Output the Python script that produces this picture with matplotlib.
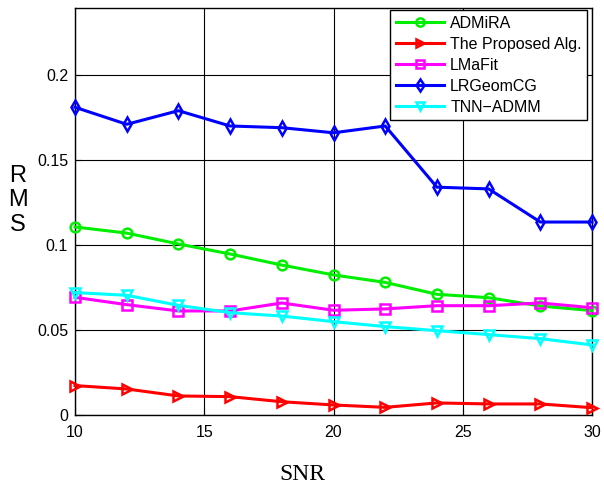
import matplotlib
matplotlib.use("Agg")
import matplotlib.pyplot as plt

snr = [10, 12, 14, 16, 18, 20, 22, 24, 26, 28, 30]
admira = [0.1106, 0.1070, 0.1006, 0.0947, 0.0882, 0.0824, 0.0780, 0.0710, 0.0690, 0.0641, 0.0614]
proposed = [0.0173, 0.0153, 0.0112, 0.0108, 0.0078, 0.0059, 0.0045, 0.0071, 0.0065, 0.0065, 0.0043]
lmafit = [0.0692, 0.0649, 0.0612, 0.0612, 0.0659, 0.0616, 0.0624, 0.0643, 0.0643, 0.0659, 0.0631]
lrgeomcg = [0.181, 0.171, 0.179, 0.170, 0.169, 0.166, 0.170, 0.134, 0.133, 0.1135, 0.1135]
tnn_admm = [0.0720, 0.0704, 0.0645, 0.0602, 0.0582, 0.0549, 0.0520, 0.0496, 0.0473, 0.0449, 0.0412]

labels = ["ADMiRA", "The Proposed Alg.", "LMaFit", "LRGeomCG", "TNN\u2212ADMM"]
xticks = [10, 15, 20, 25, 30]
yticks = [0, 0.05, 0.1, 0.15, 0.2]
yticklabels = ["0", "0.05", "0.1", "0.15", "0.2"]

plt.rcParams['font.family'] = ['Liberation Sans', 'DejaVu Sans']

fig = plt.figure(figsize=(6.04, 4.88), dpi=100)
ax = fig.add_axes([0.1242, 0.1496, 0.8560, 0.8340])

series = [
    (admira, '#00ee00', 'o'),
    (proposed, '#ff0000', '>'),
    (lmafit, '#ff00ff', 's'),
    (lrgeomcg, '#0000ff', 'd'),
    (tnn_admm, '#00ffff', 'v'),
]
for (vals, col, mk), lab in zip(series, labels):
    ax.plot(snr, vals, color=col, marker=mk, lw=2.2, markersize=7,
            markerfacecolor='none', markeredgecolor=col, markeredgewidth=1.8,
            label=lab, clip_on=False, zorder=3)

ax.set_xlim(10, 30)
ax.set_ylim(0, 0.2394)
ax.set_xticks(xticks)
ax.set_xticklabels([str(t) for t in xticks], fontsize=11.5)
ax.set_yticks(yticks)
ax.set_yticklabels(yticklabels, fontsize=11.5)
ax.grid(True, color='black', linestyle='-', linewidth=0.8)
ax.set_axisbelow(True)
ax.tick_params(axis='x', direction='in', length=4, pad=7)
ax.tick_params(axis='y', direction='in', length=4, pad=5)
for s in ax.spines.values():
    s.set_linewidth(1.0)

fig.text(0.030, 0.59, "R\nM\nS", fontsize=17, ha='center', va='center', linespacing=1.15)
fig.text(0.50, 0.027, "SNR", fontsize=17, ha='center', va='center',
         family=['Liberation Serif', 'DejaVu Serif'])

leg = ax.legend(loc='upper right', bbox_to_anchor=(0.991, 0.995), fontsize=11.5,
                frameon=True, fancybox=False, edgecolor='black', framealpha=1,
                handlelength=3.0, labelspacing=0.38, borderpad=0.35,
                handletextpad=0.4, borderaxespad=0.0, markerscale=0.85)
leg.get_frame().set_linewidth(1.0)

fig.savefig("out.png", dpi=100)
